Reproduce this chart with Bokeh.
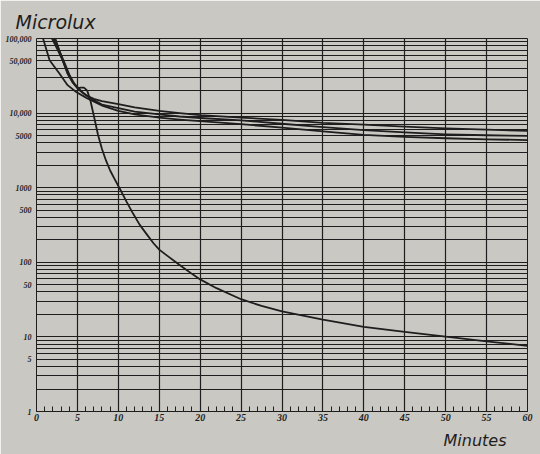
from bokeh.plotting import figure
from bokeh.models import FixedTicker, Range1d, Title
from bokeh.embed import file_html
from bokeh.resources import INLINE

# ---- axis ticks / labels ----
x_major_ticks = list(range(0, 61, 5))
x_minor_ticks = list(range(0, 61))
y_major_ticks = [1, 5, 10, 50, 100, 500, 1000, 5000, 10000, 50000, 100000]
y_tick_labels = ["1", "5", "10", "50", "100", "500", "1000", "5000",
                 "10,000", "50,000", "100,000"]
y_minor_ticks = [m * 10 ** e for e in range(0, 5) for m in range(1, 10)] + [100000]

# ---- curves (minutes, microlux) ----
curve_a_t = [1.9, 2.6, 3.2, 3.8, 4.4, 5.3, 6.0, 7.0, 8.0, 9.0, 10, 12, 15, 17.5, 20,
             25, 30, 35, 40, 45, 50, 55, 60]
curve_a_v = [100000, 70000, 51000, 34000, 26000, 20000, 17500, 15500, 14500, 13800, 13200,
             11900, 10700, 10000, 9400, 8700, 8100, 7400, 7000, 6600, 6250, 6000, 5800]

curve_b_t = [2.1, 2.8, 3.4, 4.0, 4.6, 5.5, 6.5, 8.0, 10, 12, 15, 17.5, 20, 25, 30, 35,
             40, 45, 50, 55, 60]
curve_b_v = [100000, 68000, 48000, 33000, 25000, 19500, 16000, 13000, 11700, 10500,
             9600, 9000, 8600, 8000, 7200, 6500, 5900, 5500, 5200, 5050, 4950]

curve_c_t = [0.8, 1.6, 2.8, 3.8, 4.85, 6.1, 8.1, 10, 12, 15, 17.5, 20, 25, 30, 35, 40,
             45, 50, 55, 60]
curve_c_v = [100000, 51000, 34000, 23700, 19200, 16000, 12500, 10700, 9600,
             8700, 8200, 7800, 7100, 6400, 5700, 5100, 4800, 4600, 4450, 4350]

curve_d_t = [2.3, 3.2, 3.8, 4.4, 5.0, 5.4, 5.8, 6.2, 6.6, 7.0, 7.5, 8.0, 8.5, 9.0, 9.5,
             10.2, 11.0, 11.8, 12.6, 13.5, 14.3, 15, 16, 17, 18, 19, 20, 22, 25, 27.5,
             30, 35, 40, 45, 50, 55, 60]
curve_d_v = [100000, 51000, 34000, 26000, 21500, 22000, 22000, 20000, 14500, 9300, 5200,
             3300, 2300, 1700, 1330, 960, 650, 450, 320, 235, 180, 148, 122, 101, 84,
             70, 59, 45, 32, 26, 22, 17, 13.6, 11.7, 10.1, 8.7, 7.6]

PAPER = "#cac8c3"
INK = "#1e1e1e"
TICK_FONT = "Liberation Sans Narrow"

p = figure(width=540, height=454,
           x_range=Range1d(0, 60), y_range=Range1d(1, 100000),
           y_axis_type="log",
           output_backend="svg", toolbar_location=None,
           min_border_left=36, min_border_right=13,
           min_border_top=38, min_border_bottom=41)

p.background_fill_color = PAPER
p.border_fill_color = PAPER
p.outline_line_color = INK

# x axis
p.xaxis.ticker = FixedTicker(ticks=x_major_ticks, minor_ticks=x_minor_ticks)
p.xaxis.axis_line_color = INK
p.xaxis.major_tick_in = 0
p.xaxis.major_tick_out = 0
p.xaxis.minor_tick_in = 5
p.xaxis.minor_tick_out = 0
p.xaxis.minor_tick_line_color = INK
p.xaxis.major_label_text_font = TICK_FONT
p.xaxis.major_label_text_font_style = "bold italic"
p.xaxis.major_label_text_font_size = "10px"
p.xaxis.major_label_text_color = INK
p.xaxis.major_label_standoff = 2

# y axis
p.yaxis.ticker = FixedTicker(ticks=y_major_ticks, minor_ticks=y_minor_ticks)
p.yaxis.major_label_overrides = {t: l for t, l in zip(y_major_ticks, y_tick_labels)}
p.yaxis.axis_line_color = None
p.yaxis.major_tick_line_color = None
p.yaxis.minor_tick_line_color = None
p.yaxis.major_tick_in = 0
p.yaxis.major_tick_out = 0
p.yaxis.major_label_text_font = TICK_FONT
p.yaxis.major_label_text_font_style = "bold italic"
p.yaxis.major_label_text_font_size = "8px"
p.yaxis.major_label_text_color = INK
p.yaxis.major_label_standoff = 1

# grids
p.xgrid.grid_line_color = INK
p.xgrid.grid_line_width = 1.2
p.ygrid.grid_line_color = INK
p.ygrid.grid_line_width = 1.0
p.ygrid.minor_grid_line_color = INK
p.ygrid.minor_grid_line_width = 1.0

# curves
for t, v in [(curve_a_t, curve_a_v), (curve_b_t, curve_b_v),
             (curve_c_t, curve_c_v), (curve_d_t, curve_d_v)]:
    p.line(t, v, line_color=INK, line_width=1.8, line_join="round")

# titles
p.title.text = "Microlux"
p.title.text_font = "DejaVu Sans"
p.title.text_font_style = "italic"
p.title.text_font_size = "19px"
p.title.text_color = INK
p.title.offset = -21
p.title.standoff = 12

p.add_layout(Title(text="Minutes", align="right", offset=21,
                   text_font="DejaVu Sans", text_font_style="italic",
                   text_font_size="16px", text_color=INK,
                   background_fill_color=None), "below")

open("out.html", "w").write(file_html(p, INLINE))
